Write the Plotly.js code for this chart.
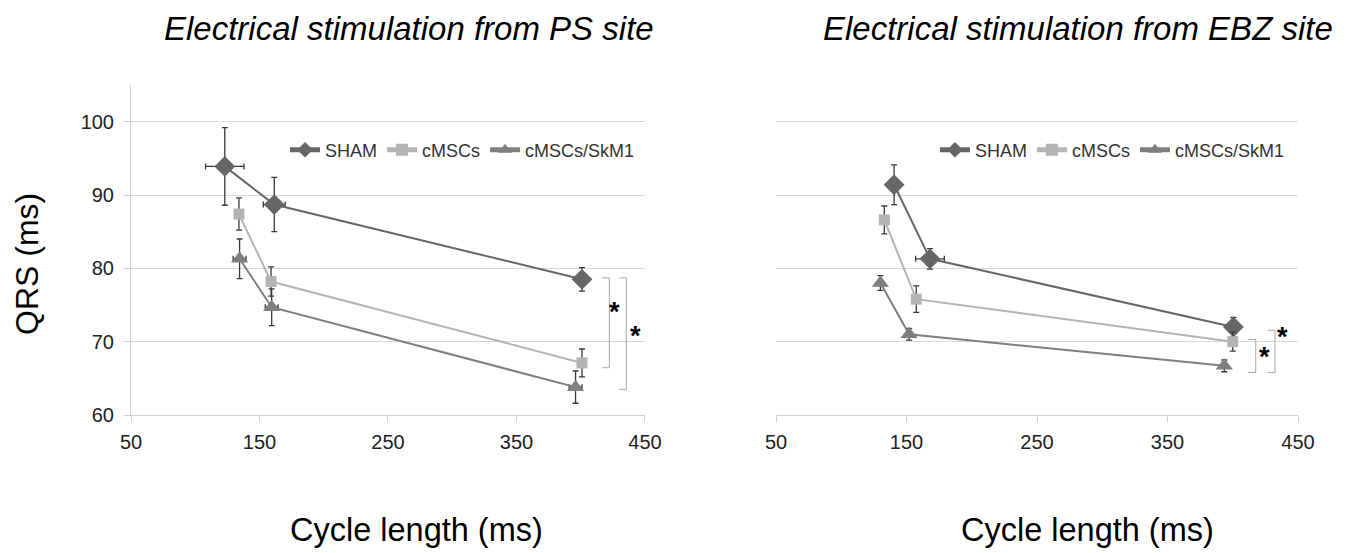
<!DOCTYPE html>
<html>
<head>
<meta charset="utf-8">
<script src="https://cdn.plot.ly/plotly-3.0.1.min.js"></script>
<style>html,body{margin:0;padding:0;background:#fff;}#chart{width:1346px;height:553px;}</style>
</head>
<body>
<div id="chart"></div>
<script>
// ---- Data: PS site (left panel) ----
const seriesNames = ["SHAM", "cMSCs", "cMSCs/SkM1"];
const psShamX = [123, 161.5, 401];
const psShamY = [93.9, 88.7, 78.5];
const psShamYErr = [5.3, 3.7, 1.6];
const psShamXErr = [15, 8.5, 1.5];
const psMscX = [134, 159, 401];
const psMscY = [87.4, 78.2, 67.1];
const psMscYErr = [2.2, 2.0, 1.9];
const psMscXErr = [2, 2, 1.5];
const psSkmX = [134.5, 159.5, 396];
const psSkmY = [81.3, 74.7, 63.8];
const psSkmYErr = [2.7, 2.5, 2.2];
const psSkmXErr = [5, 5, 5];
// ---- Data: EBZ site (right panel) ----
const ebzShamX = [140.5, 168, 400.5];
const ebzShamY = [91.4, 81.3, 72.0];
const ebzShamYErr = [2.7, 1.4, 1.3];
const ebzShamXErr = [1.5, 11, 1.5];
const ebzMscX = [133, 157.5, 400];
const ebzMscY = [86.6, 75.8, 70.0];
const ebzMscYErr = [1.9, 1.8, 1.3];
const ebzMscXErr = [1.5, 3, 1.5];
const ebzSkmX = [130, 152, 393.5];
const ebzSkmY = [78.0, 71.0, 66.7];
const ebzSkmYErr = [1.0, 0.8, 0.8];
const ebzSkmXErr = [1, 1, 1];
// ---- Axis ticks ----
const xTicks = [50, 150, 250, 350, 450];
const yTicks = [60, 70, 80, 90, 100];
// ---- Significance brackets [x0, x1, yTop, yBottom] ----
const psBrackets = [[416.8, 422.3, 78.7, 66.45], [430, 435.5, 78.7, 63.5]];
const psStars = [[426.5, 75.0], [443, 71.7]];
const ebzBrackets = [[411.7, 417.6, 70.3, 65.8], [427, 432.4, 71.55, 65.8]];
const ebzStars = [[424, 68.9], [438.5, 71.55]];

const colors = {SHAM: "#666666", cMSCs: "#b4b4b4", SkM1: "#7f7f7f"};
const errColor = "#3a3a3a";

function mk(name, x, y, ex, ey, color, symbol, size, xa, ya, legend) {
  return {
    type: "scatter", mode: "lines+markers", name: name,
    x: x, y: y, xaxis: xa, yaxis: ya, legend: legend,
    line: {color: color, width: 2},
    marker: {color: color, symbol: symbol, size: size},
    error_y: {type: "data", array: ey, visible: true, color: errColor, thickness: 1.3, width: 3},
    error_x: {type: "data", array: ex, visible: true, color: errColor, thickness: 1.3, width: 3}
  };
}

const data = [
  mk(seriesNames[0], psShamX, psShamY, psShamXErr, psShamYErr, colors.SHAM, "diamond", 16, "x", "y", "legend"),
  mk(seriesNames[1], psMscX, psMscY, psMscXErr, psMscYErr, colors.cMSCs, "square", 11, "x", "y", "legend"),
  mk(seriesNames[2], psSkmX, psSkmY, psSkmXErr, psSkmYErr, colors.SkM1, "triangle-up", 15, "x", "y", "legend"),
  mk(seriesNames[0], ebzShamX, ebzShamY, ebzShamXErr, ebzShamYErr, colors.SHAM, "diamond", 16, "x2", "y2", "legend2"),
  mk(seriesNames[1], ebzMscX, ebzMscY, ebzMscXErr, ebzMscYErr, colors.cMSCs, "square", 11, "x2", "y2", "legend2"),
  mk(seriesNames[2], ebzSkmX, ebzSkmY, ebzSkmXErr, ebzSkmYErr, colors.SkM1, "triangle-up", 15, "x2", "y2", "legend2")
];

const shapes = [];
function addBrackets(list, xref, yref) {
  list.forEach(b => {
    shapes.push({type: "path", xref: xref, yref: yref,
      path: `M ${b[0]},${b[2]} L ${b[1]},${b[2]} L ${b[1]},${b[3]} L ${b[0]},${b[3]}`,
      line: {color: "#a6a6a6", width: 1}});
  });
}
addBrackets(psBrackets, "x", "y");
addBrackets(ebzBrackets, "x2", "y2");

const font = "'Liberation Sans', Arial, sans-serif";
const annotations = [];
function addStars(list, xref, yref) {
  list.forEach(s => annotations.push({xref: xref, yref: yref, x: s[0], y: s[1], text: "<b>*</b>",
    showarrow: false, yshift: -7, font: {family: font, size: 27, color: "#000"}}));
}
addStars(psStars, "x", "y");
addStars(ebzStars, "x2", "y2");

annotations.push(
  {xref: "paper", yref: "paper", x: 0.2386, y: 1.1727, text: "<i>Electrical stimulation from PS site</i>", showarrow: false, xanchor: "center", yanchor: "middle", font: {family: font, size: 33, color: "#000"}},
  {xref: "paper", yref: "paper", x: 0.8115, y: 1.1727, text: "<i>Electrical stimulation from EBZ site</i>", showarrow: false, xanchor: "center", yanchor: "middle", font: {family: font, size: 33, color: "#000"}},
  {xref: "paper", yref: "paper", x: 0.2446, y: -0.3485, text: "Cycle length (ms)", showarrow: false, xanchor: "center", yanchor: "middle", font: {family: font, size: 32.5, color: "#000"}},
  {xref: "paper", yref: "paper", x: 0.820, y: -0.3485, text: "Cycle length (ms)", showarrow: false, xanchor: "center", yanchor: "middle", font: {family: font, size: 32.5, color: "#000"}},
  {xref: "paper", yref: "paper", x: -0.0891, y: 0.4576, text: "QRS (ms)", textangle: -90, showarrow: false, xanchor: "center", yanchor: "middle", font: {family: font, size: 32, color: "#000"}}
);

const xaxisBase = {range: [50, 450], tickvals: xTicks, ticktext: xTicks.map(String), showgrid: false, zeroline: false,
  showline: true, linecolor: "#d0d0d0", linewidth: 1, ticks: "outside", ticklen: 6, tickcolor: "#d0d0d0",
  tickfont: {family: font, size: 20, color: "#222"}, ticklabelstandoff: 3, fixedrange: true};
const yaxisBase = {range: [60, 105], tickvals: yTicks, showgrid: true, gridcolor: "#d9d9d9", gridwidth: 1, zeroline: false,
  tickfont: {family: font, size: 20, color: "#222"}, fixedrange: true};

const legendBase = {orientation: "h", xanchor: "left", yanchor: "middle", bgcolor: "rgba(0,0,0,0)",
  font: {family: font, size: 18, color: "#333"}, itemclick: false, itemdoubleclick: false,
  itemsizing: "constant", tracegroupgap: 0};

const layout = {
  width: 1346, height: 553,
  margin: {l: 131, r: 48, t: 85, b: 138},
  paper_bgcolor: "#fff", plot_bgcolor: "#fff",
  showlegend: true,
  xaxis: Object.assign({}, xaxisBase, {domain: [0, 0.4404], anchor: "y"}),
  yaxis: Object.assign({}, yaxisBase, {domain: [0, 1], anchor: "x", showline: true, linecolor: "#d0d0d0",
    ticks: "outside", ticklen: 6, tickcolor: "#d0d0d0", showticklabels: true, ticklabelstandoff: 6}),
  xaxis2: Object.assign({}, xaxisBase, {domain: [0.5527, 1], anchor: "y2"}),
  yaxis2: Object.assign({}, yaxisBase, {domain: [0, 1], anchor: "x2", showline: false, ticks: "", showticklabels: false}),
  legend: Object.assign({}, legendBase, {x: 0.1320, y: 0.803}),
  legend2: Object.assign({}, legendBase, {x: 0.6889, y: 0.803}),
  shapes: shapes,
  annotations: annotations
};

Plotly.newPlot("chart", data, layout, {displayModeBar: false, staticPlot: true});
</script>
</body>
</html>
